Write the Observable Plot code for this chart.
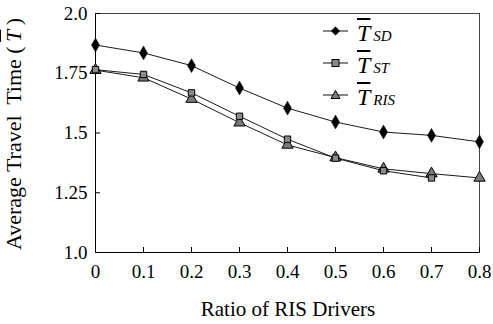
<!DOCTYPE html>
<html>
<head>
<meta charset="utf-8">
<script src="https://cdn.jsdelivr.net/npm/d3@7"></script>
<script src="https://cdn.jsdelivr.net/npm/@observablehq/plot@0.6"></script>
<style>
  html, body { margin: 0; padding: 0; background: #fff; }
  #wrap { position: relative; width: 493px; height: 324px; font-family: "Liberation Serif", serif; color: #000; }
  #wrap svg text { font-family: "Liberation Serif", serif !important; }
  #ylabel { position: absolute; left: 14px; top: 134px; transform: translate(-50%, -50%) rotate(-90deg); white-space: nowrap; font-size: 22px; line-height: 1; }
  #xlabel { position: absolute; left: 288px; top: 309px; transform: translate(-50%, -50%); white-space: nowrap; font-size: 21px; }
  .tbar { font-style: italic; text-decoration: overline; }
  #legend { position: absolute; left: 321px; top: 15px; }
  .row { position: relative; height: 32px; display: flex; align-items: center; }
  .row svg { width: 30px; height: 14px; }
  .lab { margin-left: 6px; line-height: 1; position: relative; top: 2px; white-space: nowrap; }
  .lab .T { font-style: italic; font-size: 24px; text-decoration: overline; text-decoration-thickness: 1.5px; }
  .lab .sub { font-style: italic; font-size: 15px; margin-left: 3px; }
</style>
</head>
<body>
<div id="wrap"></div>
<script>
const ratio = [0, 0.1, 0.2, 0.3, 0.4, 0.5, 0.6, 0.7, 0.8];
const tSD  = [1.868, 1.835, 1.782, 1.688, 1.604, 1.546, 1.504, 1.490, 1.463];
const tST  = [1.765, 1.745, 1.668, 1.570, 1.474, 1.395, 1.342, 1.312, null];
const tRIS = [1.763, 1.731, 1.642, 1.543, 1.450, 1.397, 1.350, 1.330, 1.312];
const seriesNames = ["SD", "ST", "RIS"];
const xTicks = [0, 0.1, 0.2, 0.3, 0.4, 0.5, 0.6, 0.7, 0.8];
const xTickLabels = ["0", "0.1", "0.2", "0.3", "0.4", "0.5", "0.6", "0.7", "0.8"];
const yTicks = [1.0, 1.25, 1.5, 1.75, 2.0];
const yTickLabels = ["1.0", "1.25", "1.5", "1.75", "2.0"];

const mk = vals => ratio.map((r, i) => ({r, v: vals[i]})).filter(d => d.v != null);
const sd = mk(tSD), st = mk(tST), ris = mk(tRIS);

const lineStyle = {x: "r", y: "v", stroke: "#1a1a1a", strokeWidth: 1};

const chart = Plot.plot({
  width: 493,
  height: 324,
  marginLeft: 95,
  marginRight: 14,
  marginTop: 13,
  marginBottom: 72,
  style: {fontFamily: '"Liberation Serif", serif', fontSize: "19px", color: "#000", background: "#fff"},
  x: {domain: [0, 0.8]},
  y: {domain: [1, 2]},
  marks: [
    Plot.frame({stroke: "#444", strokeWidth: 1}),
    Plot.axisX(xTicks, {tickSize: 0, tickPadding: 12, tickFormat: (d, i) => xTickLabels[i], label: null, fontSize: 19}),
    Plot.axisX(xTicks, {tickSize: -5, tickFormat: () => "", label: null, stroke: "#000"}),
    Plot.axisY(yTicks, {tickSize: 0, tickPadding: 8, tickFormat: (d, i) => yTickLabels[i], label: null, fontSize: 19}),
    Plot.axisY(yTicks, {tickSize: -5, tickFormat: () => "", label: null, stroke: "#000"}),
    Plot.ruleX([0], {stroke: "#000"}),
    Plot.ruleY([1], {stroke: "#000"}),
    Plot.line(sd, lineStyle),
    Plot.line(st, lineStyle),
    Plot.line(ris, lineStyle),
    Plot.dot(sd, {x: "r", y: "v", symbol: "diamond", r: 4.2, fill: "#000", stroke: "#000", strokeWidth: 0.5}),
    Plot.dot(ris, {x: "r", y: "v", symbol: "triangle", r: 4.2, fill: "#7a7a7a", stroke: "#000", strokeWidth: 1}),
    Plot.dot(st, {x: "r", y: "v", symbol: "square", r: 3.6, fill: "#8a8a8a", stroke: "#000", strokeWidth: 1})
  ]
});

const wrap = document.getElementById("wrap");
wrap.appendChild(chart);

const yl = document.createElement("div");
yl.id = "ylabel";
yl.innerHTML = 'Average Travel&nbsp; Time (&thinsp;<span class="tbar">T</span>&thinsp;)';
wrap.appendChild(yl);

const xl = document.createElement("div");
xl.id = "xlabel";
xl.textContent = "Ratio of RIS Drivers";
wrap.appendChild(xl);

const symbolsSvg = {
  SD: '<line x1="2" y1="7" x2="27" y2="7" stroke="#111" stroke-width="1"/><path d="M14.5,2.5 L19,7 L14.5,11.5 L10,7 Z" fill="#000"/>',
  ST: '<line x1="2" y1="7" x2="27" y2="7" stroke="#111" stroke-width="1"/><rect x="11" y="3.5" width="7" height="7" fill="#8a8a8a" stroke="#000"/>',
  RIS: '<line x1="2" y1="7" x2="27" y2="7" stroke="#111" stroke-width="1"/><path d="M14.5,2.5 L19,10.5 L10,10.5 Z" fill="#7a7a7a" stroke="#000"/>'
};
const lg = document.createElement("div");
lg.id = "legend";
lg.innerHTML = seriesNames.map(n =>
  `<div class="row"><svg viewBox="0 0 30 14">${symbolsSvg[n]}</svg><span class="lab"><span class="T">T</span><span class="sub">${n}</span></span></div>`
).join("");
wrap.appendChild(lg);
</script>
</body>
</html>
